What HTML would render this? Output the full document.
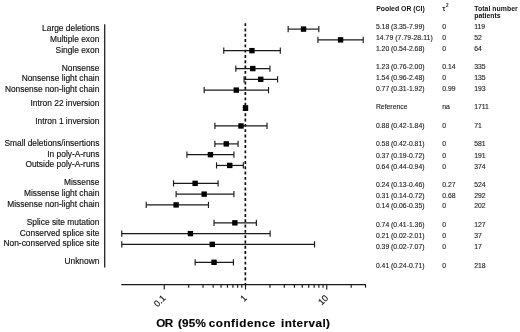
<!DOCTYPE html>
<html><head><meta charset="utf-8"><title>Forest plot</title>
<style>html,body{margin:0;padding:0;background:#fff;}body{width:520px;height:332px;overflow:hidden;}svg{display:block;will-change:transform;filter:grayscale(1);font-family:"Liberation Sans",sans-serif;}</style>
</head><body>
<svg width="520" height="332" viewBox="0 0 520 332">
<rect width="520" height="332" fill="#fff"/>
<g opacity="0.999">
<line x1="104.7" y1="24.2" x2="104.7" y2="267.6" stroke="#1a1a1a" stroke-width="1.25"/>
<line x1="121.27" y1="284.7" x2="366.02" y2="284.7" stroke="#1a1a1a" stroke-width="1.25"/>
<line x1="164.25" y1="284.7" x2="164.25" y2="289.5" stroke="#1a1a1a" stroke-width="1.15"/>
<line x1="188.71" y1="284.7" x2="188.71" y2="287.7" stroke="#1a1a1a" stroke-width="1.15"/>
<line x1="203.02" y1="284.7" x2="203.02" y2="287.7" stroke="#1a1a1a" stroke-width="1.15"/>
<line x1="213.17" y1="284.7" x2="213.17" y2="287.7" stroke="#1a1a1a" stroke-width="1.15"/>
<line x1="221.04" y1="284.7" x2="221.04" y2="287.7" stroke="#1a1a1a" stroke-width="1.15"/>
<line x1="227.47" y1="284.7" x2="227.47" y2="287.7" stroke="#1a1a1a" stroke-width="1.15"/>
<line x1="232.91" y1="284.7" x2="232.91" y2="287.7" stroke="#1a1a1a" stroke-width="1.15"/>
<line x1="237.63" y1="284.7" x2="237.63" y2="287.7" stroke="#1a1a1a" stroke-width="1.15"/>
<line x1="241.78" y1="284.7" x2="241.78" y2="287.7" stroke="#1a1a1a" stroke-width="1.15"/>
<line x1="245.50" y1="284.7" x2="245.50" y2="289.5" stroke="#1a1a1a" stroke-width="1.15"/>
<line x1="269.96" y1="284.7" x2="269.96" y2="287.7" stroke="#1a1a1a" stroke-width="1.15"/>
<line x1="284.27" y1="284.7" x2="284.27" y2="287.7" stroke="#1a1a1a" stroke-width="1.15"/>
<line x1="294.42" y1="284.7" x2="294.42" y2="287.7" stroke="#1a1a1a" stroke-width="1.15"/>
<line x1="302.29" y1="284.7" x2="302.29" y2="287.7" stroke="#1a1a1a" stroke-width="1.15"/>
<line x1="308.72" y1="284.7" x2="308.72" y2="287.7" stroke="#1a1a1a" stroke-width="1.15"/>
<line x1="314.16" y1="284.7" x2="314.16" y2="287.7" stroke="#1a1a1a" stroke-width="1.15"/>
<line x1="318.88" y1="284.7" x2="318.88" y2="287.7" stroke="#1a1a1a" stroke-width="1.15"/>
<line x1="323.03" y1="284.7" x2="323.03" y2="287.7" stroke="#1a1a1a" stroke-width="1.15"/>
<line x1="326.75" y1="284.7" x2="326.75" y2="289.5" stroke="#1a1a1a" stroke-width="1.15"/>
<line x1="351.21" y1="284.7" x2="351.21" y2="287.7" stroke="#1a1a1a" stroke-width="1.15"/>
<line x1="365.52" y1="284.7" x2="365.52" y2="287.7" stroke="#1a1a1a" stroke-width="1.15"/>
<text x="166.35" y="298.60" font-size="9.1" text-anchor="end" fill="#111" stroke="#111" stroke-width="0.15" transform="rotate(-45 166.35 298.60)">0.1</text>
<text x="247.60" y="298.60" font-size="9.1" text-anchor="end" fill="#111" stroke="#111" stroke-width="0.15" transform="rotate(-45 247.60 298.60)">1</text>
<text x="328.85" y="298.60" font-size="9.1" text-anchor="end" fill="#111" stroke="#111" stroke-width="0.15" transform="rotate(-45 328.85 298.60)">10</text>
<line x1="245.35" y1="23.2" x2="245.35" y2="284.7" stroke="#0a0a0a" stroke-width="1.65" stroke-dasharray="2.9 2.4"/>
<text x="99.4" y="31.10" font-size="8.4" text-anchor="end" fill="#111" stroke="#111" stroke-width="0.15">Large deletions</text>
<line x1="288.16" y1="29.10" x2="318.83" y2="29.10" stroke="#1a1a1a" stroke-width="1.2"/>
<line x1="288.16" y1="26.00" x2="288.16" y2="32.20" stroke="#1a1a1a" stroke-width="1.15"/>
<line x1="318.83" y1="26.00" x2="318.83" y2="32.20" stroke="#1a1a1a" stroke-width="1.15"/>
<rect x="300.84" y="26.40" width="5.4" height="5.4" fill="#000"/>
<text x="375.9" y="29.10" font-size="6.85" fill="#222" stroke="#222" stroke-width="0.12" textLength="48.6" lengthAdjust="spacing">5.18 (3.35-7.99)</text>
<text x="442.3" y="29.10" font-size="6.85" fill="#222" stroke="#222" stroke-width="0.12">0</text>
<text x="474.2" y="29.10" font-size="6.85" fill="#222" stroke="#222" stroke-width="0.12">119</text>
<text x="99.4" y="41.87" font-size="8.4" text-anchor="end" fill="#111" stroke="#111" stroke-width="0.15">Multiple exon</text>
<line x1="317.94" y1="39.87" x2="363.22" y2="39.87" stroke="#1a1a1a" stroke-width="1.2"/>
<line x1="317.94" y1="36.77" x2="317.94" y2="42.97" stroke="#1a1a1a" stroke-width="1.15"/>
<line x1="363.22" y1="36.77" x2="363.22" y2="42.97" stroke="#1a1a1a" stroke-width="1.15"/>
<rect x="337.86" y="37.17" width="5.4" height="5.4" fill="#000"/>
<text x="375.9" y="40.00" font-size="6.85" fill="#222" stroke="#222" stroke-width="0.12" textLength="56.8" lengthAdjust="spacing">14.79 (7.79-28.11)</text>
<text x="442.3" y="40.00" font-size="6.85" fill="#222" stroke="#222" stroke-width="0.12">0</text>
<text x="474.2" y="40.00" font-size="6.85" fill="#222" stroke="#222" stroke-width="0.12">52</text>
<text x="99.4" y="52.64" font-size="8.4" text-anchor="end" fill="#111" stroke="#111" stroke-width="0.15">Single exon</text>
<line x1="223.76" y1="50.64" x2="280.29" y2="50.64" stroke="#1a1a1a" stroke-width="1.2"/>
<line x1="223.76" y1="47.54" x2="223.76" y2="53.74" stroke="#1a1a1a" stroke-width="1.15"/>
<line x1="280.29" y1="47.54" x2="280.29" y2="53.74" stroke="#1a1a1a" stroke-width="1.15"/>
<rect x="249.23" y="47.94" width="5.4" height="5.4" fill="#000"/>
<text x="375.9" y="50.50" font-size="6.85" fill="#222" stroke="#222" stroke-width="0.12" textLength="48.6" lengthAdjust="spacing">1.20 (0.54-2.68)</text>
<text x="442.3" y="50.50" font-size="6.85" fill="#222" stroke="#222" stroke-width="0.12">0</text>
<text x="474.2" y="50.50" font-size="6.85" fill="#222" stroke="#222" stroke-width="0.12">64</text>
<text x="99.4" y="70.57" font-size="8.4" text-anchor="end" fill="#111" stroke="#111" stroke-width="0.15">Nonsense</text>
<line x1="235.82" y1="68.57" x2="269.96" y2="68.57" stroke="#1a1a1a" stroke-width="1.2"/>
<line x1="235.82" y1="65.47" x2="235.82" y2="71.67" stroke="#1a1a1a" stroke-width="1.15"/>
<line x1="269.96" y1="65.47" x2="269.96" y2="71.67" stroke="#1a1a1a" stroke-width="1.15"/>
<rect x="250.10" y="65.87" width="5.4" height="5.4" fill="#000"/>
<text x="375.9" y="68.60" font-size="6.85" fill="#222" stroke="#222" stroke-width="0.12" textLength="48.6" lengthAdjust="spacing">1.23 (0.76-2.00)</text>
<text x="442.3" y="68.60" font-size="6.85" fill="#222" stroke="#222" stroke-width="0.12">0.14</text>
<text x="474.2" y="68.60" font-size="6.85" fill="#222" stroke="#222" stroke-width="0.12">335</text>
<text x="99.4" y="81.34" font-size="8.4" text-anchor="end" fill="#111" stroke="#111" stroke-width="0.15">Nonsense light chain</text>
<line x1="244.06" y1="79.34" x2="277.55" y2="79.34" stroke="#1a1a1a" stroke-width="1.2"/>
<line x1="244.06" y1="76.24" x2="244.06" y2="82.44" stroke="#1a1a1a" stroke-width="1.15"/>
<line x1="277.55" y1="76.24" x2="277.55" y2="82.44" stroke="#1a1a1a" stroke-width="1.15"/>
<rect x="258.04" y="76.64" width="5.4" height="5.4" fill="#000"/>
<text x="375.9" y="79.70" font-size="6.85" fill="#222" stroke="#222" stroke-width="0.12" textLength="48.6" lengthAdjust="spacing">1.54 (0.96-2.48)</text>
<text x="442.3" y="79.70" font-size="6.85" fill="#222" stroke="#222" stroke-width="0.12">0</text>
<text x="474.2" y="79.70" font-size="6.85" fill="#222" stroke="#222" stroke-width="0.12">135</text>
<text x="99.4" y="92.11" font-size="8.4" text-anchor="end" fill="#111" stroke="#111" stroke-width="0.15">Nonsense non-light chain</text>
<line x1="204.17" y1="90.11" x2="268.52" y2="90.11" stroke="#1a1a1a" stroke-width="1.2"/>
<line x1="204.17" y1="87.01" x2="204.17" y2="93.21" stroke="#1a1a1a" stroke-width="1.15"/>
<line x1="268.52" y1="87.01" x2="268.52" y2="93.21" stroke="#1a1a1a" stroke-width="1.15"/>
<rect x="233.58" y="87.41" width="5.4" height="5.4" fill="#000"/>
<text x="375.9" y="90.50" font-size="6.85" fill="#222" stroke="#222" stroke-width="0.12" textLength="48.6" lengthAdjust="spacing">0.77 (0.31-1.92)</text>
<text x="442.3" y="90.50" font-size="6.85" fill="#222" stroke="#222" stroke-width="0.12">0.99</text>
<text x="474.2" y="90.50" font-size="6.85" fill="#222" stroke="#222" stroke-width="0.12">193</text>
<text x="99.4" y="106.14" font-size="8.4" text-anchor="end" fill="#111" stroke="#111" stroke-width="0.15">Intron 22 inversion</text>
<rect x="242.80" y="105.14" width="5.4" height="5.8" fill="#000"/>
<text x="375.9" y="108.90" font-size="6.85" fill="#222" stroke="#222" stroke-width="0.12">Reference</text>
<text x="442.3" y="108.90" font-size="6.85" fill="#222" stroke="#222" stroke-width="0.12">na</text>
<text x="474.2" y="108.90" font-size="6.85" fill="#222" stroke="#222" stroke-width="0.12">1711</text>
<text x="99.4" y="124.07" font-size="8.4" text-anchor="end" fill="#111" stroke="#111" stroke-width="0.15">Intron 1 inversion</text>
<line x1="214.89" y1="125.97" x2="267.02" y2="125.97" stroke="#1a1a1a" stroke-width="1.2"/>
<line x1="214.89" y1="122.87" x2="214.89" y2="129.07" stroke="#1a1a1a" stroke-width="1.15"/>
<line x1="267.02" y1="122.87" x2="267.02" y2="129.07" stroke="#1a1a1a" stroke-width="1.15"/>
<rect x="238.29" y="123.27" width="5.4" height="5.4" fill="#000"/>
<text x="375.9" y="127.70" font-size="6.85" fill="#222" stroke="#222" stroke-width="0.12" textLength="48.6" lengthAdjust="spacing">0.88 (0.42-1.84)</text>
<text x="442.3" y="127.70" font-size="6.85" fill="#222" stroke="#222" stroke-width="0.12">0</text>
<text x="474.2" y="127.70" font-size="6.85" fill="#222" stroke="#222" stroke-width="0.12">71</text>
<text x="99.4" y="145.90" font-size="8.4" text-anchor="end" fill="#111" stroke="#111" stroke-width="0.15">Small deletions/insertions</text>
<line x1="214.89" y1="143.90" x2="238.06" y2="143.90" stroke="#1a1a1a" stroke-width="1.2"/>
<line x1="214.89" y1="140.80" x2="214.89" y2="147.00" stroke="#1a1a1a" stroke-width="1.15"/>
<line x1="238.06" y1="140.80" x2="238.06" y2="147.00" stroke="#1a1a1a" stroke-width="1.15"/>
<rect x="223.58" y="141.20" width="5.4" height="5.4" fill="#000"/>
<text x="375.9" y="146.20" font-size="6.85" fill="#222" stroke="#222" stroke-width="0.12" textLength="48.6" lengthAdjust="spacing">0.58 (0.42-0.81)</text>
<text x="442.3" y="146.20" font-size="6.85" fill="#222" stroke="#222" stroke-width="0.12">0</text>
<text x="474.2" y="146.20" font-size="6.85" fill="#222" stroke="#222" stroke-width="0.12">581</text>
<text x="99.4" y="156.67" font-size="8.4" text-anchor="end" fill="#111" stroke="#111" stroke-width="0.15">In poly-A-runs</text>
<line x1="186.90" y1="154.67" x2="233.91" y2="154.67" stroke="#1a1a1a" stroke-width="1.2"/>
<line x1="186.90" y1="151.57" x2="186.90" y2="157.77" stroke="#1a1a1a" stroke-width="1.15"/>
<line x1="233.91" y1="151.57" x2="233.91" y2="157.77" stroke="#1a1a1a" stroke-width="1.15"/>
<rect x="207.72" y="151.97" width="5.4" height="5.4" fill="#000"/>
<text x="375.9" y="158.20" font-size="6.85" fill="#222" stroke="#222" stroke-width="0.12" textLength="48.6" lengthAdjust="spacing">0.37 (0.19-0.72)</text>
<text x="442.3" y="158.20" font-size="6.85" fill="#222" stroke="#222" stroke-width="0.12">0</text>
<text x="474.2" y="158.20" font-size="6.85" fill="#222" stroke="#222" stroke-width="0.12">191</text>
<text x="99.4" y="167.44" font-size="8.4" text-anchor="end" fill="#111" stroke="#111" stroke-width="0.15">Outside poly-A-runs</text>
<line x1="216.53" y1="165.44" x2="243.32" y2="165.44" stroke="#1a1a1a" stroke-width="1.2"/>
<line x1="216.53" y1="162.34" x2="216.53" y2="168.54" stroke="#1a1a1a" stroke-width="1.15"/>
<line x1="243.32" y1="162.34" x2="243.32" y2="168.54" stroke="#1a1a1a" stroke-width="1.15"/>
<rect x="227.05" y="162.74" width="5.4" height="5.4" fill="#000"/>
<text x="375.9" y="168.60" font-size="6.85" fill="#222" stroke="#222" stroke-width="0.12" textLength="48.6" lengthAdjust="spacing">0.64 (0.44-0.94)</text>
<text x="442.3" y="168.60" font-size="6.85" fill="#222" stroke="#222" stroke-width="0.12">0</text>
<text x="474.2" y="168.60" font-size="6.85" fill="#222" stroke="#222" stroke-width="0.12">374</text>
<text x="99.4" y="185.37" font-size="8.4" text-anchor="end" fill="#111" stroke="#111" stroke-width="0.15">Missense</text>
<line x1="173.51" y1="183.37" x2="218.10" y2="183.37" stroke="#1a1a1a" stroke-width="1.2"/>
<line x1="173.51" y1="180.27" x2="173.51" y2="186.47" stroke="#1a1a1a" stroke-width="1.15"/>
<line x1="218.10" y1="180.27" x2="218.10" y2="186.47" stroke="#1a1a1a" stroke-width="1.15"/>
<rect x="192.44" y="180.67" width="5.4" height="5.4" fill="#000"/>
<text x="375.9" y="187.40" font-size="6.85" fill="#222" stroke="#222" stroke-width="0.12" textLength="48.6" lengthAdjust="spacing">0.24 (0.13-0.46)</text>
<text x="442.3" y="187.40" font-size="6.85" fill="#222" stroke="#222" stroke-width="0.12">0.27</text>
<text x="474.2" y="187.40" font-size="6.85" fill="#222" stroke="#222" stroke-width="0.12">524</text>
<text x="99.4" y="196.14" font-size="8.4" text-anchor="end" fill="#111" stroke="#111" stroke-width="0.15">Missense light chain</text>
<line x1="176.12" y1="194.14" x2="233.91" y2="194.14" stroke="#1a1a1a" stroke-width="1.2"/>
<line x1="176.12" y1="191.04" x2="176.12" y2="197.24" stroke="#1a1a1a" stroke-width="1.15"/>
<line x1="233.91" y1="191.04" x2="233.91" y2="197.24" stroke="#1a1a1a" stroke-width="1.15"/>
<rect x="201.47" y="191.44" width="5.4" height="5.4" fill="#000"/>
<text x="375.9" y="198.20" font-size="6.85" fill="#222" stroke="#222" stroke-width="0.12" textLength="48.6" lengthAdjust="spacing">0.31 (0.14-0.72)</text>
<text x="442.3" y="198.20" font-size="6.85" fill="#222" stroke="#222" stroke-width="0.12">0.68</text>
<text x="474.2" y="198.20" font-size="6.85" fill="#222" stroke="#222" stroke-width="0.12">292</text>
<text x="99.4" y="206.91" font-size="8.4" text-anchor="end" fill="#111" stroke="#111" stroke-width="0.15">Missense non-light chain</text>
<line x1="146.22" y1="204.91" x2="208.46" y2="204.91" stroke="#1a1a1a" stroke-width="1.2"/>
<line x1="146.22" y1="201.81" x2="146.22" y2="208.01" stroke="#1a1a1a" stroke-width="1.15"/>
<line x1="208.46" y1="201.81" x2="208.46" y2="208.01" stroke="#1a1a1a" stroke-width="1.15"/>
<rect x="173.42" y="202.21" width="5.4" height="5.4" fill="#000"/>
<text x="375.9" y="208.30" font-size="6.85" fill="#222" stroke="#222" stroke-width="0.12" textLength="48.6" lengthAdjust="spacing">0.14 (0.06-0.35)</text>
<text x="442.3" y="208.30" font-size="6.85" fill="#222" stroke="#222" stroke-width="0.12">0</text>
<text x="474.2" y="208.30" font-size="6.85" fill="#222" stroke="#222" stroke-width="0.12">202</text>
<text x="99.4" y="224.84" font-size="8.4" text-anchor="end" fill="#111" stroke="#111" stroke-width="0.15">Splice site mutation</text>
<line x1="214.04" y1="222.84" x2="256.35" y2="222.84" stroke="#1a1a1a" stroke-width="1.2"/>
<line x1="214.04" y1="219.74" x2="214.04" y2="225.94" stroke="#1a1a1a" stroke-width="1.15"/>
<line x1="256.35" y1="219.74" x2="256.35" y2="225.94" stroke="#1a1a1a" stroke-width="1.15"/>
<rect x="232.18" y="220.14" width="5.4" height="5.4" fill="#000"/>
<text x="375.9" y="227.40" font-size="6.85" fill="#222" stroke="#222" stroke-width="0.12" textLength="48.6" lengthAdjust="spacing">0.74 (0.41-1.36)</text>
<text x="442.3" y="227.40" font-size="6.85" fill="#222" stroke="#222" stroke-width="0.12">0</text>
<text x="474.2" y="227.40" font-size="6.85" fill="#222" stroke="#222" stroke-width="0.12">127</text>
<text x="99.4" y="235.61" font-size="8.4" text-anchor="end" fill="#111" stroke="#111" stroke-width="0.15">Conserved splice site</text>
<line x1="121.77" y1="233.61" x2="270.13" y2="233.61" stroke="#1a1a1a" stroke-width="1.2"/>
<line x1="121.77" y1="230.51" x2="121.77" y2="236.71" stroke="#1a1a1a" stroke-width="1.15"/>
<line x1="270.13" y1="230.51" x2="270.13" y2="236.71" stroke="#1a1a1a" stroke-width="1.15"/>
<rect x="187.73" y="230.91" width="5.4" height="5.4" fill="#000"/>
<text x="375.9" y="237.80" font-size="6.85" fill="#222" stroke="#222" stroke-width="0.12" textLength="48.6" lengthAdjust="spacing">0.21 (0.02-2.01)</text>
<text x="442.3" y="237.80" font-size="6.85" fill="#222" stroke="#222" stroke-width="0.12">0</text>
<text x="474.2" y="237.80" font-size="6.85" fill="#222" stroke="#222" stroke-width="0.12">37</text>
<text x="99.4" y="246.38" font-size="8.4" text-anchor="end" fill="#111" stroke="#111" stroke-width="0.15">Non-conserved splice site</text>
<line x1="121.77" y1="244.38" x2="314.52" y2="244.38" stroke="#1a1a1a" stroke-width="1.2"/>
<line x1="121.77" y1="241.28" x2="121.77" y2="247.48" stroke="#1a1a1a" stroke-width="1.15"/>
<line x1="314.52" y1="241.28" x2="314.52" y2="247.48" stroke="#1a1a1a" stroke-width="1.15"/>
<rect x="209.57" y="241.68" width="5.4" height="5.4" fill="#000"/>
<text x="375.9" y="248.50" font-size="6.85" fill="#222" stroke="#222" stroke-width="0.12" textLength="48.6" lengthAdjust="spacing">0.39 (0.02-7.07)</text>
<text x="442.3" y="248.50" font-size="6.85" fill="#222" stroke="#222" stroke-width="0.12">0</text>
<text x="474.2" y="248.50" font-size="6.85" fill="#222" stroke="#222" stroke-width="0.12">17</text>
<text x="99.4" y="264.31" font-size="8.4" text-anchor="end" fill="#111" stroke="#111" stroke-width="0.15">Unknown</text>
<line x1="195.14" y1="262.31" x2="233.41" y2="262.31" stroke="#1a1a1a" stroke-width="1.2"/>
<line x1="195.14" y1="259.21" x2="195.14" y2="265.41" stroke="#1a1a1a" stroke-width="1.15"/>
<line x1="233.41" y1="259.21" x2="233.41" y2="265.41" stroke="#1a1a1a" stroke-width="1.15"/>
<rect x="211.34" y="259.61" width="5.4" height="5.4" fill="#000"/>
<text x="375.9" y="267.80" font-size="6.85" fill="#222" stroke="#222" stroke-width="0.12" textLength="48.6" lengthAdjust="spacing">0.41 (0.24-0.71)</text>
<text x="442.3" y="267.80" font-size="6.85" fill="#222" stroke="#222" stroke-width="0.12">0</text>
<text x="474.2" y="267.80" font-size="6.85" fill="#222" stroke="#222" stroke-width="0.12">218</text>
<text x="376.2" y="10.9" font-size="6.9" font-weight="bold" fill="#111">Pooled OR (CI)</text>
<text x="442.3" y="10.85" font-size="7.0" font-weight="bold" fill="#222">τ</text>
<text x="446.1" y="7.35" font-size="4.6" font-weight="bold" fill="#222">2</text>
<text x="474.2" y="10.9" font-size="6.9" font-weight="bold" fill="#111" textLength="43.6" lengthAdjust="spacing">Total number</text>
<text x="474.2" y="17.9" font-size="6.9" font-weight="bold" fill="#111">patients</text>
<text x="156.2" y="327.1" font-size="11.7" font-weight="bold" fill="#000" stroke="#000" stroke-width="0.15" textLength="16.9" lengthAdjust="spacing">OR</text>
<text x="177.9" y="327.1" font-size="11.7" font-weight="bold" fill="#000" stroke="#000" stroke-width="0.15" textLength="27.9" lengthAdjust="spacing">(95%</text>
<text x="208.7" y="327.1" font-size="11.7" font-weight="bold" fill="#000" stroke="#000" stroke-width="0.15" textLength="66.5" lengthAdjust="spacing">confidence</text>
<text x="281.0" y="327.1" font-size="11.7" font-weight="bold" fill="#000" stroke="#000" stroke-width="0.15" textLength="49.0" lengthAdjust="spacing">interval)</text>
</g>
</svg></body></html>
